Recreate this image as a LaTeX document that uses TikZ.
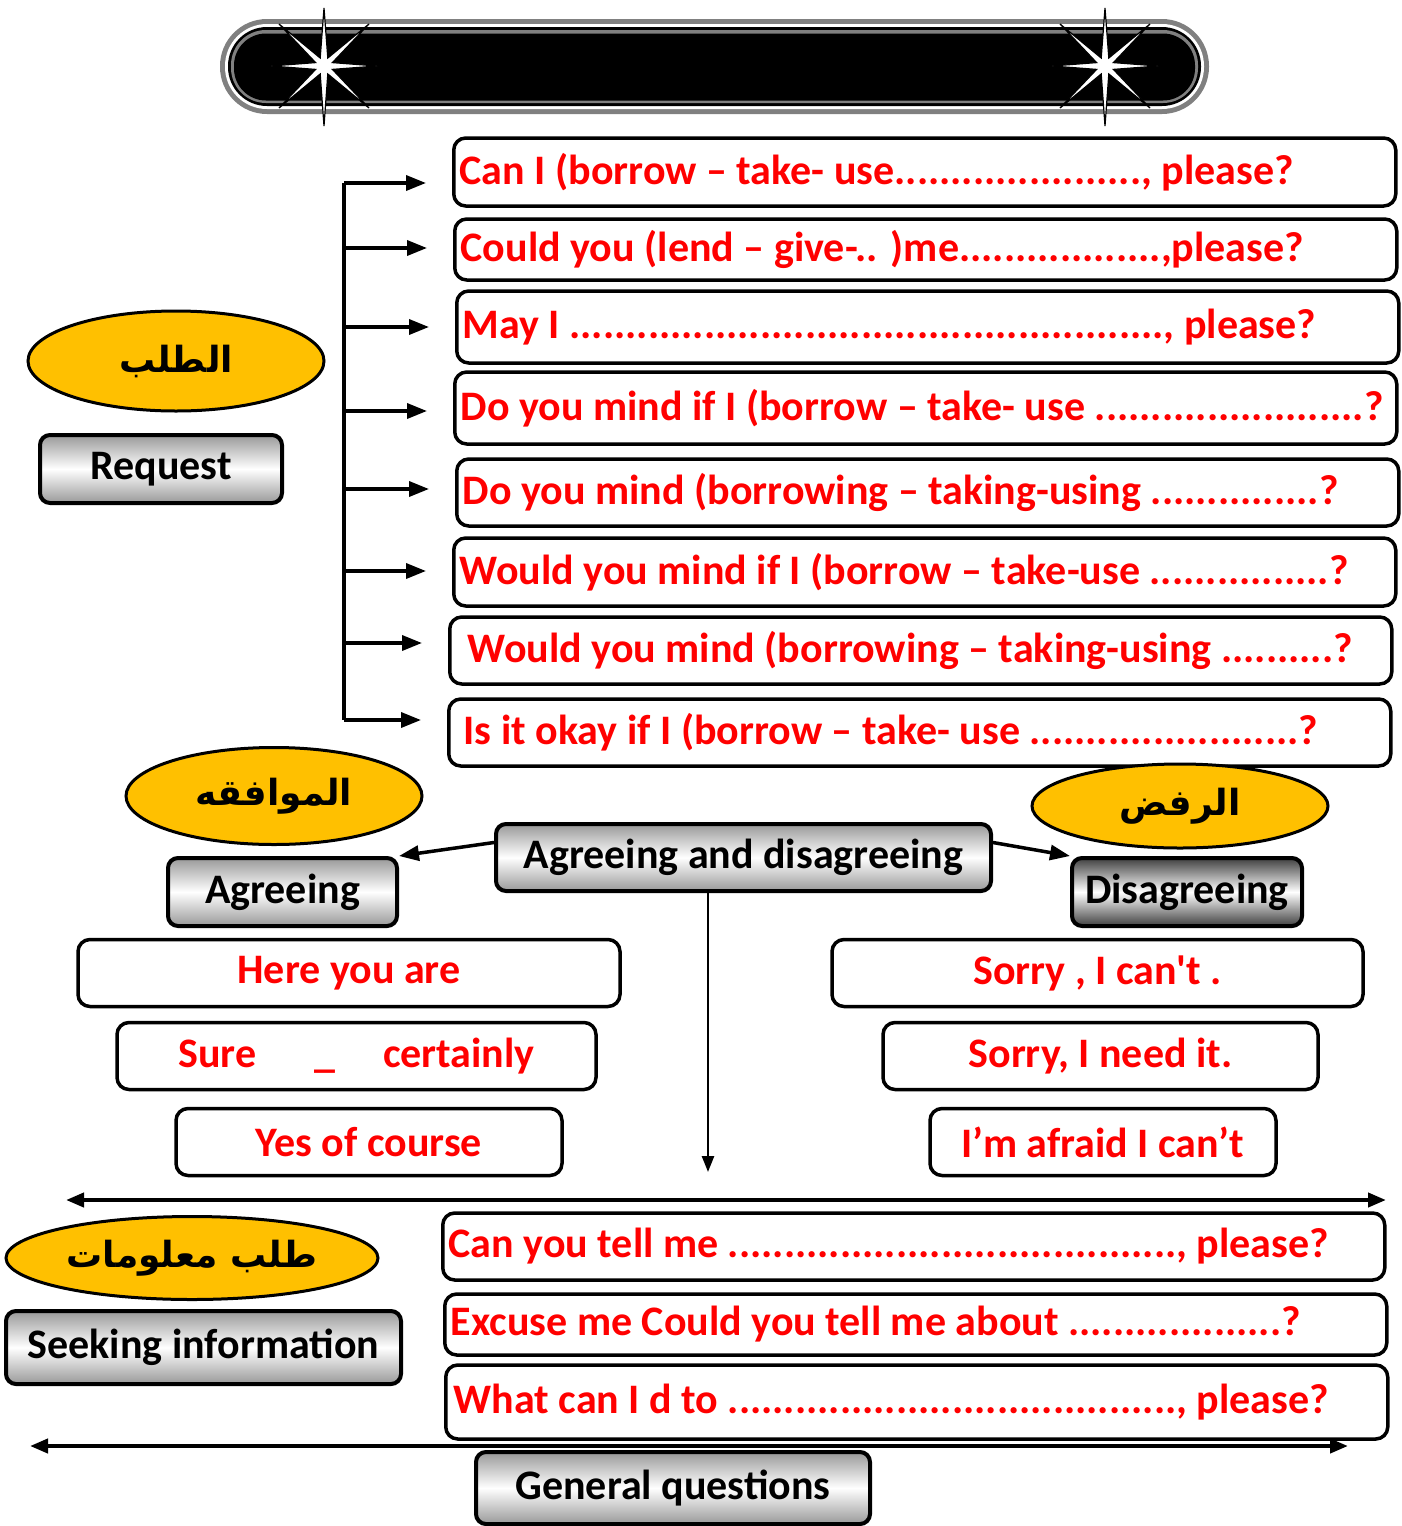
\documentclass[tikz,border=0pt]{standalone}
\usepackage{fontspec}
\setmainfont{Carlito}
\newfontfamily\arabicfont[Script=Arabic]{DejaVu Sans}
\TeXXeTstate=1
\usepackage{xcolor}
\usetikzlibrary{shapes,arrows,positioning,calc,arrows.meta}

\definecolor{gold}{HTML}{FFC000}
\newcommand\dotrun[1]{\foreach \k in {1,...,#1}{.}}
\newcommand\askline[1]{\makebox[930pt][l]{#1}}

\tikzset{
  askbox/.style={draw, line width=3.5pt, rounded corners=12pt, fill=white, text=red,
    anchor=west, inner xsep=6pt, inner ysep=2pt,
    font=\fontsize{42}{48}\selectfont\bfseries},
  ansbox/.style={draw, line width=3.5pt, rounded corners=12pt, fill=white, text=red,
    inner sep=2pt, minimum height=67pt, font=\fontsize{42}{48}\selectfont\bfseries},
  tagbox/.style={draw, line width=4pt, rounded corners=10pt, top color=gray!80,
    bottom color=gray!80, middle color=white, minimum height=68pt, inner sep=2pt,
    font=\fontsize{42}{48}\selectfont\bfseries},
  arabtag/.style={ellipse, draw, line width=3pt, fill=gold,
    font=\arabicfont\bfseries\fontsize{36}{40}\selectfont},
  arr/.style={-{Triangle[length=20pt,width=15pt]}, line width=3.5pt},
  dblarr/.style={{Triangle[length=18pt,width=14pt]}-{Triangle[length=18pt,width=14pt]}, line width=4pt},
}

\begin{document}
\begin{tikzpicture}[x=1pt,y=-1pt]
    \useasboundingbox (0,0) rectangle (1402,1526);

    % Title bar
    \fill[gray, rounded corners=47pt] (220,19) rectangle (1209,114);
    \fill[white, rounded corners=42pt] (225,24) rectangle (1204,109);
    \fill[black, rounded corners=39pt] (228,27) rectangle (1201,106);
    \fill[gray, rounded corners=35pt] (231,30) rectangle (1198,103);
    \node[fill=black, rounded corners=32pt, minimum width=961pt, minimum height=67pt,
      text=black, font=\fontsize{56}{60}\selectfont\bfseries] (title) at (714.5,67) {Communication Skills};
    \foreach \sx in {324,1105}
      \filldraw[fill=white, draw=black, line width=1.2pt, shift={(\sx,66)}]
        (0,-58) -- (3.8,-8) -- (45,-42) -- (8.4,-3.4) -- (53,0) -- (8.4,3.4)
        -- (45,42) -- (3.8,8) -- (0,60) -- (-3.8,8) -- (-45,42) -- (-8.4,3.4)
        -- (-53,0) -- (-8.4,-3.4) -- (-45,-42) -- (-3.8,-8) -- cycle;

    % Request
    \node[arabtag, minimum width=296pt, minimum height=100pt] (talab) at (176,361) {\beginR الطلب\endR};
    \node[tagbox, minimum width=242pt] (req) at (161,469) {Request};

    \node[askbox, minimum height=68pt] (r1) at (452,172) {\askline{Can I (borrow – take- use\dotrun{22}, please?}};
    \node[askbox, minimum height=61pt] (r2) at (453,249.5) {\askline{Could you (lend – give-.. )me\dotrun{18},please?}};
    \node[askbox, minimum height=72pt] (r3) at (455,327) {\askline{May I \dotrun{53}, please?}};
    \node[askbox, minimum height=72pt] (r4) at (453,408) {\askline{Do you mind if I (borrow – take- use \dotrun{24}?}};
    \node[askbox, minimum height=67pt] (r5) at (455,492.5) {\askline{Do you mind (borrowing – taking-using \dotrun{15}?}};
    \node[askbox, minimum height=68pt] (r6) at (452,572) {\askline{Would you mind if I (borrow – take-use \dotrun{16}?}};
    \node[askbox, minimum height=67pt] (r7) at (448,650.5) {\askline{\hspace*{12pt}Would you mind (borrowing – taking-using \dotrun{10}?}};
    \node[askbox, minimum height=67pt] (r8) at (447,732.5) {\askline{\hspace*{9pt}Is it okay if I (borrow – take- use \dotrun{24}?}};

    \coordinate (ttop) at (344,183);
    \coordinate (tbot) at (344,720);
    \draw[line width=3.5pt] (ttop) -- (tbot);
    \foreach \i/\y in {1/183,2/248,3/327,4/411,5/489,6/571,7/643,8/720}
      \draw[arr, shorten >=26pt] (344,\y) -- (r\i.west |- 0,\y);

    % Agreeing and disagreeing
    \node[arabtag, minimum width=296pt, minimum height=97pt] (muwafaqa) at (274,796) {\beginR الموافقه\endR};
    \node[arabtag, minimum width=296pt, minimum height=84pt] (rafd) at (1180,806) {\beginR الرفض\endR};
    \node[tagbox, minimum width=229pt] (agr) at (282.5,892) {Agreeing};
    \node[tagbox, minimum width=495pt, minimum height=67pt] (agdis) at (743.5,857.5) {Agreeing and disagreeing};
    \node[tagbox, minimum width=230pt, top color=black!75, bottom color=black!75, middle color=white] (dis) at (1187,892) {Disagreeing};

    \draw[arr] ([yshift=15pt]agdis.west) -- (agr.north east);
    \draw[arr] ([yshift=15pt]agdis.east) -- (dis.north west);
    \coordinate (agdown) at (708,1172);
    \draw[-{Triangle[length=16pt,width=12pt]}, line width=2.5pt] (agdis.south -| agdown) -- (agdown);

    \node[ansbox, minimum width=542pt] (ag1) at (349,973) {Here you are};
    \node[ansbox, minimum width=479pt] (ag2) at (356.5,1056) {Sure\hspace{58pt}\_\hspace{48pt}certainly};
    \node[ansbox, minimum width=386pt] (ag3) at (369,1142) {Yes of course};
    \node[ansbox, minimum width=531pt] (dg1) at (1097.5,973) {Sorry , I can\textquotesingle t .};
    \node[ansbox, minimum width=435pt] (dg2) at (1100.5,1056) {Sorry, I need it.};
    \node[ansbox, minimum width=346pt] (dg3) at (1103,1142) {I’m afraid I can’t};

    % Seeking information
    \coordinate (s1l) at (66,1200);
    \coordinate (s1r) at (1386,1200);
    \draw[dblarr] (s1l) -- (s1r);

    \node[arabtag, minimum width=372pt, minimum height=83pt] (maalumat) at (192,1258) {\beginR طلب معلومات\endR};
    \node[tagbox, minimum width=395pt, minimum height=73pt] (seek) at (203.5,1347.5) {Seeking information};

    \node[askbox, minimum height=67pt] (q1) at (441,1246.5) {\askline{Can you tell me \dotrun{40}, please?}};
    \node[askbox, minimum height=61pt] (q2) at (443,1324.5) {\askline{Excuse me Could you tell me about \dotrun{19}?}};
    \node[askbox, minimum height=74pt] (q3) at (444,1402) {\askline{\hspace*{2pt}What can I d to \dotrun{40}, please?}};

    % General questions
    \coordinate (s2l) at (30,1446);
    \coordinate (s2r) at (1348,1446);
    \draw[dblarr] (s2l) -- (s2r);
    \node[tagbox, minimum width=394pt, minimum height=72pt] (genq) at (673,1488) {General questions};
\end{tikzpicture}
\end{document}
